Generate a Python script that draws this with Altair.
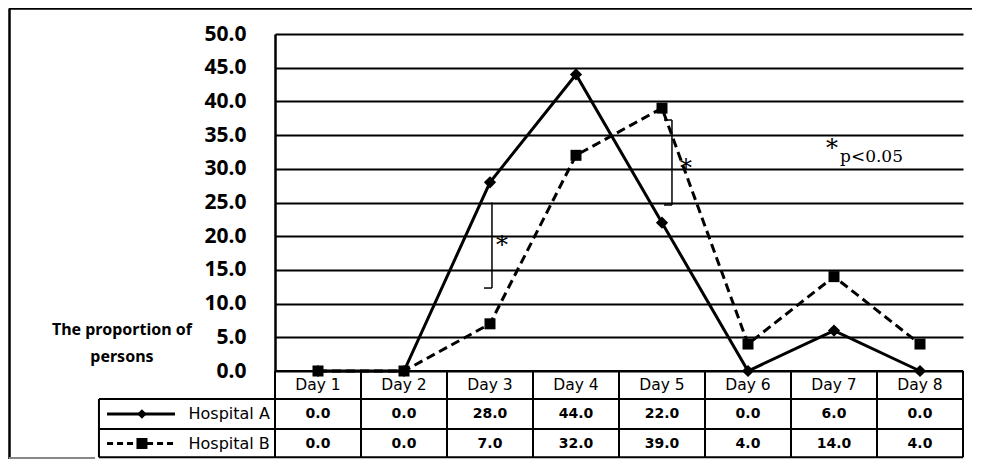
import altair as alt
import pandas as pd

# ---- data ----
days = ["Day 1", "Day 2", "Day 3", "Day 4", "Day 5", "Day 6", "Day 7", "Day 8"]
hospital_a = [0.0, 0.0, 28.0, 44.0, 22.0, 0.0, 6.0, 0.0]
hospital_b = [0.0, 0.0, 7.0, 32.0, 39.0, 4.0, 14.0, 4.0]
series_names = ["Hospital A", "Hospital B"]
y_ticks = [0, 5, 10, 15, 20, 25, 30, 35, 40, 45, 50]

# annotation anchors (in data units: x = day index, y = proportion)
ROW_HEAD, ROW_A, ROW_B = -2.08, -6.38, -10.76
LINE_ROWS = [0.0, -4.15, -8.61, -12.8]
LEGEND_LEFT = -1.547

idx = list(range(1, len(days) + 1))
df_a = pd.DataFrame({"d": idx, "v": hospital_a})
df_b = pd.DataFrame({"d": idx, "v": hospital_b})

xs = alt.Scale(domain=[0.5, 8.5], nice=False, zero=False)
ys = alt.Scale(domain=[0, 50], nice=False, zero=False)
yaxis = alt.Axis(values=y_ticks, format=".1f", grid=True, gridColor="black", gridWidth=2,
                 gridOpacity=1, domain=True, domainColor="black", domainWidth=2.5,
                 ticks=False, labelFontSize=21, labelFont="Noto Sans", labelFontWeight="bold",
                 labelColor="black", labelPadding=29, title=None)


def X(f="d"):
    return alt.X(f"{f}:Q", scale=xs, axis=None)


def Y(f="v"):
    return alt.Y(f"{f}:Q", scale=ys, axis=yaxis)


line_a = alt.Chart(df_a).mark_line(color="black", strokeWidth=3).encode(x=X(), y=Y())
pts_a = alt.Chart(df_a).mark_point(shape="diamond", filled=True, size=150, color="black", opacity=1).encode(x=X(), y=Y())
line_b = alt.Chart(df_b).mark_line(color="black", strokeWidth=3, strokeDash=[9, 5]).encode(x=X(), y=Y())
pts_b = alt.Chart(df_b).mark_point(shape="square", filled=True, size=121, color="black", opacity=1).encode(x=X(), y=Y())

# ---- table grid ----
hrules = pd.DataFrame({
    "x": [0.5] + [LEGEND_LEFT] * 3,
    "x2": [8.5] * 4,
    "y": LINE_ROWS,
})
h_rule = alt.Chart(hrules).mark_rule(color="black", strokeWidth=2).encode(
    x=X("x"), x2="x2:Q", y=Y("y"))
vr = pd.DataFrame({
    "x": [i + 0.5 for i in range(9)] + [LEGEND_LEFT],
    "y": [0.0] * 9 + [LINE_ROWS[1]],
    "y2": [LINE_ROWS[3]] * 10,
})
v_rule = alt.Chart(vr).mark_rule(color="black", strokeWidth=2).encode(
    x=X("x"), y=Y("y"), y2="y2:Q")

head_df = pd.DataFrame({"d": idx, "t": days, "v": [ROW_HEAD] * 8})
head_txt = alt.Chart(head_df).mark_text(font="DejaVu Sans", fontSize=15.5, color="black").encode(
    x=X(), y=Y(), text="t:N")

val_df = pd.DataFrame({
    "d": idx + idx,
    "t": [f"{v:.1f}" for v in hospital_a] + [f"{v:.1f}" for v in hospital_b],
    "v": [ROW_A] * 8 + [ROW_B] * 8,
})
val_txt = alt.Chart(val_df).mark_text(font="DejaVu Sans", fontWeight="bold", fontSize=14, color="black").encode(
    x=X(), y=Y(), text="t:N")

# legend cells
leg_lab = pd.DataFrame({"d": [0.44, 0.44], "v": [ROW_A, ROW_B], "t": series_names})
leg_txt = alt.Chart(leg_lab).mark_text(font="DejaVu Sans", fontSize=16, color="black", align="right").encode(
    x=X(), y=Y(), text="t:N")
leg_a = pd.DataFrame({"d": [-1.453, -0.663], "v": [ROW_A, ROW_A]})
leg_line_a = alt.Chart(leg_a).mark_line(color="black", strokeWidth=3).encode(x=X(), y=Y())
leg_b = pd.DataFrame({"d": [-1.453, -0.663], "v": [ROW_B, ROW_B]})
leg_line_b = alt.Chart(leg_b).mark_line(color="black", strokeWidth=3, strokeDash=[6, 4]).encode(x=X(), y=Y())
leg_pa = alt.Chart(pd.DataFrame({"d": [-1.047], "v": [ROW_A]})).mark_point(
    shape="diamond", filled=True, size=90, color="black", opacity=1).encode(x=X(), y=Y())
leg_pb = alt.Chart(pd.DataFrame({"d": [-1.047], "v": [ROW_B]})).mark_point(
    shape="square", filled=True, size=121, color="black", opacity=1).encode(x=X(), y=Y())

# y title
yt = pd.DataFrame({"d": [-1.28, -1.28], "v": [6.08, 2.1], "t": ["The proportion of", "persons"]})
y_title = alt.Chart(yt).mark_text(font="Noto Sans", fontWeight="bold", fontSize=16, color="black").encode(
    x=X(), y=Y(), text="t:N")

# significance brackets
br_v = pd.DataFrame({"x": [3.023, 5.116], "y": [25.0, 37.24], "y2": [12.31, 24.63]})
br_vr = alt.Chart(br_v).mark_rule(color="black", strokeWidth=1.5).encode(x=X("x"), y=Y("y"), y2="y2:Q")
br_h = pd.DataFrame({"x": [2.93, 5.023, 5.023], "x2": [3.023, 5.116, 5.116], "y": [12.31, 37.24, 24.63]})
br_hr = alt.Chart(br_h).mark_rule(color="black", strokeWidth=1.5).encode(x=X("x"), x2="x2:Q", y=Y("y"))
ast = pd.DataFrame({"d": [3.14, 5.28, 6.977], "v": [18.6, 29.9, 32.9], "t": ["*", "*", "*"]})
ast_txt = alt.Chart(ast).mark_text(font="DejaVu Serif", fontSize=24, color="black").encode(
    x=X(), y=Y(), text="t:N")
pl = pd.DataFrame({"d": [7.07], "v": [31.75], "t": ["p<0.05"]})
p_txt = alt.Chart(pl).mark_text(font="DejaVu Serif", fontSize=17, color="black", align="left").encode(
    x=X(), y=Y(), text="t:N")

# outer frame (decoration)
frame_l = alt.Chart().mark_rule(color="black", strokeWidth=2.5).encode(
    x=alt.value(-265.5), y=alt.value(-25.5), y2=alt.value(425))
frame_t = alt.Chart().mark_rule(color="black", strokeWidth=2.5).encode(
    x=alt.value(-266), x2=alt.value(720), y=alt.value(-25.5))
frame_b = alt.Chart().mark_rule(color="#888888", strokeWidth=2).encode(
    x=alt.value(-266), x2=alt.value(-180), y=alt.value(424))

chart = alt.layer(
    line_a, line_b, h_rule, v_rule, head_txt, val_txt, leg_txt, leg_line_a, leg_line_b,
    leg_pa, leg_pb, y_title, br_vr, br_hr, ast_txt, p_txt, pts_a, pts_b,
    frame_l, frame_t, frame_b,
).properties(
    width=688, height=337,
    padding={"left": 267, "top": 26, "right": 9, "bottom": 88},
    autosize=alt.AutoSizeParams(type="none"),
    background="white",
).configure_view(stroke=None)

chart.save("out.html", embed_options={"renderer": "svg", "actions": False})
